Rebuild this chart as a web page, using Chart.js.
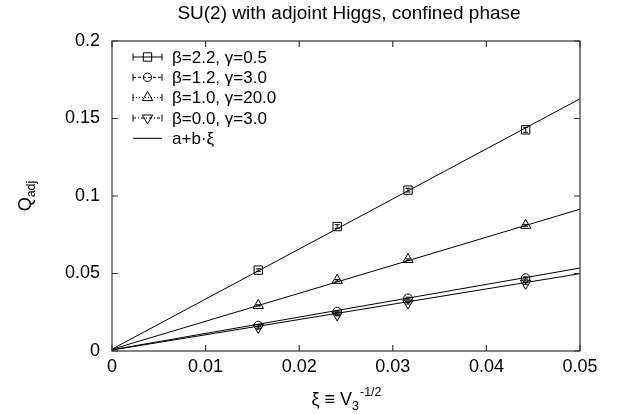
<!DOCTYPE html>
<html><head><meta charset="utf-8">
<script src="https://cdn.jsdelivr.net/npm/chart.js@4/dist/chart.umd.min.js"></script>
<style>html,body{margin:0;padding:0;background:#fff}#wrap{width:630px;height:414px}</style>
</head><body><div id="wrap"><canvas id="c" width="630" height="414"></canvas></div>
<script>
// ---- data ----
const xi = [0.015625, 0.024056, 0.031623, 0.044194];
const seriesLabels = ['β=2.2, γ=0.5', 'β=1.2, γ=3.0', 'β=1.0, γ=20.0', 'β=0.0, γ=3.0'];
const fitLabel = 'a+b·ξ';
const q22 = [0.0522, 0.0803, 0.1038, 0.1427];
const e22 = [0.0008, 0.0012, 0.0012, 0.0016];
const q12 = [0.0165, 0.0255, 0.0341, 0.0471];
const e12 = [0.0005, 0.0005, 0.0006, 0.0007];
const q10 = [0.0294, 0.0456, 0.0590, 0.0811];
const e10 = [0.0004, 0.0005, 0.0005, 0.0006];
const q00 = [0.0152, 0.0232, 0.0309, 0.0437];
const e00 = [0.0005, 0.0005, 0.0006, 0.0007];
const fitX = [0, 0.05];
const fit22 = [0.0012, 0.1627];
const fit12 = [0.0008, 0.0535];
const fit10 = [0.0011, 0.0915];
const fit00 = [0.0006, 0.0499];
const xTicks = [0, 0.01, 0.02, 0.03, 0.04, 0.05];
const xTickLabels = ['0', '0.01', '0.02', '0.03', '0.04', '0.05'];
const yTicks = [0, 0.05, 0.1, 0.15, 0.2];
const yTickLabels = ['0', '0.05', '0.1', '0.15', '0.2'];
const chartTitle = 'SU(2) with adjoint Higgs, confined phase';

// ---- styles ----
const FONT = '"Liberation Sans", Arial, Helvetica, sans-serif';
const markers = [
  {style: 'rect', r: 5.9, rot: 0, dash: []},
  {style: 'circle', r: 4.2, rot: 0, dash: [3, 2]},
  {style: 'triangle', r: 6, rot: 0, dash: [1, 2]},
  {style: 'triangle', r: 6, rot: 180, dash: [3, 2, 1, 2]}
];
const seriesY = [q22, q12, q10, q00];
const seriesE = [e22, e12, e10, e00];
const fits = [fit22, fit12, fit10, fit00];

function pts(xs, ys) { return xs.map((x, i) => ({x: x, y: ys[i]})); }

const datasets = [];
fits.forEach(f => datasets.push({
  data: pts(fitX, f), showLine: true, borderColor: '#000', borderWidth: 1,
  pointRadius: 0, pointHoverRadius: 0, fill: false
}));
seriesY.forEach((ys, k) => datasets.push({
  data: pts(xi, ys), showLine: false, pointStyle: markers[k].style,
  pointRadius: markers[k].r, pointRotation: markers[k].rot,
  pointBorderColor: '#000', pointBackgroundColor: 'rgba(0,0,0,0)', pointBorderWidth: 1
}));

function drawMarker(ctx, style, x, y, r, rot) {
  ctx.beginPath();
  if (style === 'rect') {
    const s = r * Math.SQRT1_2;
    ctx.rect(x - s, y - s, 2 * s, 2 * s);
  } else if (style === 'circle') {
    ctx.arc(x, y, r, 0, Math.PI * 2);
  } else {
    const sgn = rot === 180 ? -1 : 1;
    ctx.moveTo(x, y - sgn * r);
    ctx.lineTo(x + r * Math.sin(Math.PI / 3), y + sgn * r * 0.5);
    ctx.lineTo(x - r * Math.sin(Math.PI / 3), y + sgn * r * 0.5);
    ctx.closePath();
  }
  ctx.stroke();
}

const decor = {
  id: 'decor',
  afterDatasetsDraw(chart) {
    const ctx = chart.ctx, xs = chart.scales.x, ys = chart.scales.y;
    ctx.save();
    ctx.strokeStyle = '#000'; ctx.lineWidth = 1;
    seriesY.forEach((vals, k) => {
      vals.forEach((v, i) => {
        const px = xs.getPixelForValue(xi[i]);
        const p1 = ys.getPixelForValue(v - seriesE[k][i]);
        const p2 = ys.getPixelForValue(v + seriesE[k][i]);
        ctx.beginPath();
        ctx.moveTo(px, p1); ctx.lineTo(px, p2);
        ctx.moveTo(px - 2.5, p1); ctx.lineTo(px + 2.5, p1);
        ctx.moveTo(px - 2.5, p2); ctx.lineTo(px + 2.5, p2);
        ctx.stroke();
      });
    });
    ctx.restore();
  },
  afterDraw(chart) {
    const ctx = chart.ctx, a = chart.chartArea, xs = chart.scales.x, ys = chart.scales.y;
    ctx.save();
    // frame
    ctx.strokeStyle = '#333'; ctx.lineWidth = 1.2;
    ctx.strokeRect(a.left, a.top, a.right - a.left, a.bottom - a.top);
    // inward ticks
    ctx.beginPath();
    xTicks.forEach(v => {
      const p = xs.getPixelForValue(v);
      ctx.moveTo(p, a.bottom); ctx.lineTo(p, a.bottom - 6);
      ctx.moveTo(p, a.top); ctx.lineTo(p, a.top + 6);
    });
    yTicks.forEach(v => {
      const p = ys.getPixelForValue(v);
      ctx.moveTo(a.left, p); ctx.lineTo(a.left + 6, p);
      ctx.moveTo(a.right, p); ctx.lineTo(a.right - 6, p);
    });
    ctx.stroke();
    // title
    ctx.fillStyle = '#000';
    ctx.font = '19px ' + FONT;
    ctx.textAlign = 'center'; ctx.textBaseline = 'alphabetic';
    ctx.fillText(chartTitle, (a.left + a.right) / 2 + 3, 19);
    // x title: ξ ≡ V_3^{-1/2}
    const big = '18px ' + FONT, small = '12.5px ' + FONT;
    const parts = [
      {t: 'ξ ≡ V', f: big, dy: 0},
      {t: '3', f: small, dy: 5},
      {t: '-1/2', f: small, dy: -9}
    ];
    let w = 0;
    parts.forEach(p => { ctx.font = p.f; p.w = ctx.measureText(p.t).width; w += p.w; });
    let x0 = (a.left + a.right) / 2 - w / 2;
    ctx.textAlign = 'left';
    const bx = 405;
    ctx.font = parts[0].f; ctx.fillText(parts[0].t, x0, bx); x0 += parts[0].w;
    ctx.font = parts[1].f; ctx.fillText(parts[1].t, x0, bx + parts[1].dy);
    ctx.font = parts[2].f; ctx.fillText(parts[2].t, x0 + parts[1].w + 1, bx + parts[2].dy);
    // y title: Q_adj rotated
    ctx.save();
    ctx.translate(31, (a.top + a.bottom) / 2);
    ctx.rotate(-Math.PI / 2);
    ctx.font = big; const wq = ctx.measureText('Q').width;
    ctx.font = small; const wa = ctx.measureText('adj').width;
    const s0 = -(wq + wa) / 2;
    ctx.font = big; ctx.fillText('Q', s0, 0);
    ctx.font = small; ctx.fillText('adj', s0 + wq, 4);
    ctx.restore();
    // legend
    const rows = [57, 77.3, 97.6, 118, 138.3];
    const lx1 = 133, lx2 = 162, mx = 147.5, tx = 172;
    ctx.font = '17px ' + FONT; ctx.textBaseline = 'middle'; ctx.textAlign = 'left';
    seriesLabels.forEach((lab, k) => {
      const y = rows[k];
      ctx.strokeStyle = '#000'; ctx.lineWidth = 1;
      ctx.setLineDash(markers[k].dash);
      ctx.beginPath(); ctx.moveTo(lx1, y); ctx.lineTo(lx2, y); ctx.stroke();
      ctx.setLineDash([]);
      ctx.beginPath();
      ctx.moveTo(lx1, y - 3.5); ctx.lineTo(lx1, y + 3.5);
      ctx.moveTo(lx2, y - 3.5); ctx.lineTo(lx2, y + 3.5);
      ctx.stroke();
      drawMarker(ctx, markers[k].style, mx, y, markers[k].r, markers[k].rot);
      ctx.fillStyle = '#000';
      ctx.fillText(lab, tx, y + 1);
    });
    ctx.beginPath(); ctx.moveTo(lx1, rows[4]); ctx.lineTo(lx2, rows[4]); ctx.stroke();
    ctx.fillText(fitLabel, tx, rows[4] + 1);
    ctx.restore();
  }
};

new Chart(document.getElementById('c'), {
  type: 'scatter',
  data: {datasets: datasets},
  options: {
    responsive: false, animation: false, devicePixelRatio: 1,
    layout: {padding: {top: 41, right: 50, left: 0, bottom: 0}},
    plugins: {legend: {display: false}, title: {display: false}, tooltip: {enabled: false}},
    scales: {
      x: {
        type: 'linear', min: 0, max: 0.05,
        afterBuildTicks: s => { s.ticks = xTicks.map(v => ({value: v})); },
        afterFit: s => { s.height = 63; },
        ticks: {callback: (v, i) => xTickLabels[i], color: '#000', font: {family: FONT, size: 18}, padding: 5, maxRotation: 0, autoSkip: false},
        grid: {display: false, drawTicks: false}, border: {display: false}
      },
      y: {
        type: 'linear', min: 0, max: 0.2,
        afterBuildTicks: s => { s.ticks = yTicks.map(v => ({value: v})); },
        afterFit: s => { s.width = 112; },
        ticks: {callback: (v, i) => yTickLabels[i], color: '#000', font: {family: FONT, size: 18}, padding: 12, autoSkip: false},
        grid: {display: false, drawTicks: false}, border: {display: false}
      }
    }
  },
  plugins: [decor]
});
</script></body></html>
